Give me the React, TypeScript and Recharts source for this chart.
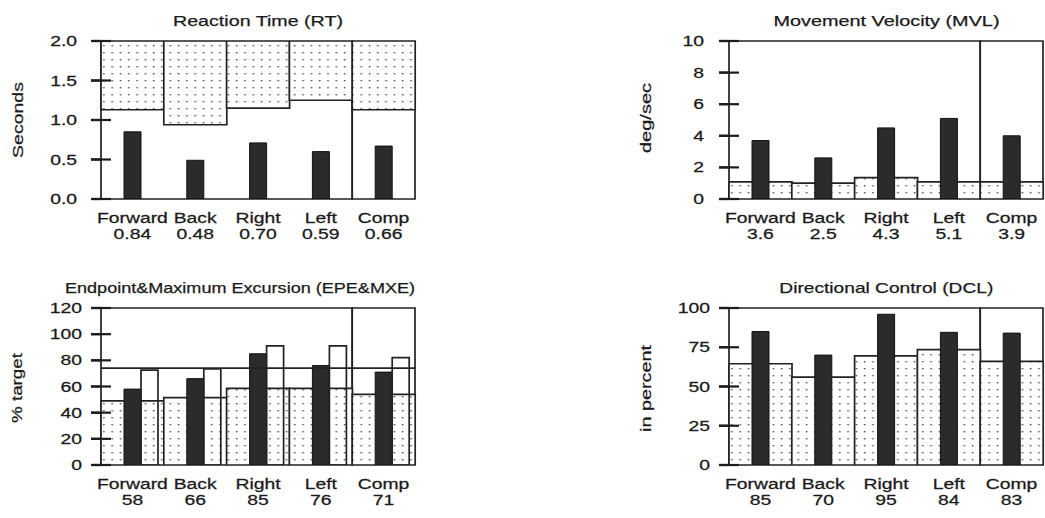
import React from 'react';
import { ComposedChart, Bar, XAxis, YAxis, ReferenceArea, ReferenceLine } from 'recharts';

// ---------- data ----------
const categories = ['Forward', 'Back', 'Right', 'Left', 'Comp'];

// Reaction Time (RT), seconds
const rtMean = [0.85, 0.49, 0.71, 0.6, 0.67];
const rtLabels = ['0.84', '0.48', '0.70', '0.59', '0.66'];
const rtNormLow = [1.13, 0.94, 1.15, 1.25, 1.13];
const rtMax = 2.0;
const rtTicks = [0, 0.5, 1.0, 1.5, 2.0];

// Movement Velocity (MVL), deg/sec
const mvlMean = [3.7, 2.6, 4.5, 5.1, 4.0];
const mvlLabels = ['3.6', '2.5', '4.3', '5.1', '3.9'];
const mvlNormHigh = [1.08, 1.0, 1.35, 1.08, 1.08];
const mvlMax = 10;
const mvlTicks = [0, 2, 4, 6, 8, 10];

// Endpoint & Maximum Excursion (EPE & MXE), % target
const epeMean = [58, 66, 85, 76, 71];
const mxeMean = [72.5, 73.5, 91, 91, 82];
const epeLabels = ['58', '66', '85', '76', '71'];
const epeNormHigh = [49, 51.5, 58.5, 58.5, 54];
const epeTarget = 74;
const epeMax = 120;
const epeTicks = [0, 20, 40, 60, 80, 100, 120];

// Directional Control (DCL), in percent
const dclMean = [85, 70, 96, 84.5, 84];
const dclLabels = ['85', '70', '95', '84', '83'];
const dclNormHigh = [64.5, 56, 69.5, 73.5, 66];
const dclMax = 100;
const dclTicks = [0, 25, 50, 75, 100];

// ---------- styling ----------
const FONT = '"Liberation Sans", Arial, Helvetica, sans-serif';
const INK = '#1a1a1a';
const LINE = '#222222';
const TICK = '#1c1c1c';
const SX = 1.38;
const FS = 14;
const TSW = 0.25;

const XTick = (props: any) => {
  const { x, payload, index, bottom, labels } = props;
  const i = typeof index === 'number' ? index : categories.indexOf(payload.value);
  return (
    <text transform={`translate(${x},${bottom + 24.3}) scale(${SX},1)`} textAnchor="middle"
      fontFamily={FONT} fontSize={FS} fill={INK} stroke={INK} strokeWidth={TSW}>
      <tspan x={0} y={0}>{payload.value}</tspan>
      <tspan x={0} y={15.4}>{labels[i]}</tspan>
    </text>
  );
};

const YTick = (props: any) => {
  const { y, payload, axisX, gap, fmt } = props;
  return (
    <text transform={`translate(${axisX - gap},${y + 5}) scale(${SX},1)`} textAnchor="end"
      fontFamily={FONT} fontSize={FS} fill={INK} stroke={INK} strokeWidth={TSW}>{fmt(payload.value)}</text>
  );
};

// inner half of the tick mark (drawn over the plot), placed by the library's y scale
const TickMark = (p: any) => {
  const x = Math.min(p.x1, p.x2);
  const y = p.y1;
  return <path d={`M${x - 10},${y}H${x + 10}`} stroke={TICK} strokeWidth={2.2} fill="none" />;
};

type PanelProps = {
  left: number; top: number; plotH: number; data: any[]; ticks: number[]; max: number;
  fmt: (v: number) => string; labels: string[]; gap: number; mxe?: boolean; target?: number;
};

function Panel({ left, top, plotH, data, ticks, max, fmt, labels, gap, mxe, target }: PanelProps) {
  const margin = { top: 41, right: 4, left: 41, bottom: 0 };
  const yW = 60;
  const axisX = margin.left + yW;
  const bottom = margin.top + plotH;
  return (
    <div style={{ position: 'absolute', left, top }}>
      <ComposedChart width={419} height={margin.top + plotH + 50} data={data} margin={margin}
        barGap={0} barCategoryGap={0}>
        <XAxis dataKey="cat" xAxisId={0} axisLine={false} tickLine={false} height={50} interval={0}
          tick={(p: any) => <XTick {...p} bottom={bottom} labels={labels} />} />
        <XAxis dataKey="cat" xAxisId="bg" hide />
        <YAxis yAxisId={0} width={yW} type="number" domain={[0, max]} ticks={ticks} allowDataOverflow
          axisLine={false} tickLine={{ stroke: TICK, strokeWidth: 2.2 }} tickSize={10} interval={0}
          tick={(p: any) => <YTick {...p} axisX={axisX} gap={gap} fmt={fmt} />} />
        <Bar xAxisId="bg" dataKey="range" fill="url(#dots)" stroke={LINE} strokeWidth={1.7}
          isAnimationActive={false} />
        {mxe && <Bar dataKey={(d: any) => d.mean} fill="none" stroke="none" barSize={17}
          isAnimationActive={false} />}
        <Bar dataKey="mean" fill="#2b2b2b" stroke="#111" strokeWidth={1} barSize={17} isAnimationActive={false} />
        {mxe && <Bar dataKey="mxe" fill="none" stroke={LINE} strokeWidth={1.7} barSize={17}
          isAnimationActive={false} />}
        {target != null && <ReferenceLine y={target} stroke={LINE} strokeWidth={1.7} />}
        <ReferenceArea x1="Forward" x2="Left" y1={0} y2={max} fill="none" stroke={LINE} strokeWidth={1.7} />
        <ReferenceArea x1="Comp" x2="Comp" y1={0} y2={max} fill="none" stroke={LINE} strokeWidth={1.7} />
        {ticks.map((v) => (
          <ReferenceLine key={`t${v}`} y={v} ifOverflow="visible" stroke={TICK} shape={TickMark} />
        ))}
      </ComposedChart>
    </div>
  );
}

const rtData = categories.map((c, i) => ({ cat: c, range: [rtNormLow[i], rtMax], mean: rtMean[i] }));
const mvlData = categories.map((c, i) => ({ cat: c, range: [0, mvlNormHigh[i]], mean: mvlMean[i] }));
const epeData = categories.map((c, i) => ({ cat: c, range: [0, epeNormHigh[i]], mean: epeMean[i], mxe: mxeMean[i] }));
const dclData = categories.map((c, i) => ({ cat: c, range: [0, dclNormHigh[i]], mean: dclMean[i] }));

const titles = [
  { t: 'Reaction Time (RT)', x: 258, y: 26, w: 170 },
  { t: 'Movement Velocity (MVL)', x: 886.5, y: 26, w: 226 },
  { t: 'Endpoint&Maximum Excursion (EPE&MXE)', x: 240, y: 293, w: 350 },
  { t: 'Directional Control (DCL)', x: 886.3, y: 293, w: 214 },
];
const yLabels = [
  { t: 'Seconds', x: 23, y: 120, w: 76 },
  { t: 'deg/sec', x: 651, y: 118, w: 70 },
  { t: '% target', x: 21.5, y: 388, w: 70 },
  { t: 'in percent', x: 650.5, y: 388.5, w: 87 },
];

export default function App() {
  return (
    <div style={{ position: 'absolute', left: 0, top: 0, width: 1045, height: 518, background: '#fff', overflow: 'hidden' }}>
      <svg width={0} height={0} style={{ position: 'absolute' }}>
        <defs>
          <pattern id="dots" patternUnits="userSpaceOnUse" width={8.3} height={7}>
            <rect width={8.3} height={7} fill="#fff" />
            <rect x={3.5} y={3} width={1.6} height={1.4} fill="#555" />
          </pattern>
        </defs>
      </svg>
      <Panel left={0} top={0} plotH={158} data={rtData} ticks={rtTicks} max={rtMax}
        fmt={(v) => v.toFixed(1)} labels={rtLabels} gap={24} />
      <Panel left={628} top={0} plotH={158} data={mvlData} ticks={mvlTicks} max={mvlMax}
        fmt={(v) => String(v)} labels={mvlLabels} gap={25} />
      <Panel left={0} top={267} plotH={157} data={epeData} ticks={epeTicks} max={epeMax}
        fmt={(v) => String(v)} labels={epeLabels} gap={19} mxe target={epeTarget} />
      <Panel left={628} top={267} plotH={157} data={dclData} ticks={dclTicks} max={dclMax}
        fmt={(v) => String(v)} labels={dclLabels} gap={19} />
      <svg width={1045} height={518} style={{ position: 'absolute', left: 0, top: 0, pointerEvents: 'none' }}>
        {titles.map((d) => (
          <text key={d.t} x={d.x} y={d.y} textAnchor="middle" textLength={d.w} lengthAdjust="spacingAndGlyphs"
            fontFamily={FONT} fontSize={15} fill={INK} stroke={INK} strokeWidth={TSW}>{d.t}</text>
        ))}
        {yLabels.map((d) => (
          <text key={d.t} transform={`translate(${d.x},${d.y}) rotate(-90)`} textAnchor="middle"
            textLength={d.w} lengthAdjust="spacingAndGlyphs" fontFamily={FONT} fontSize={15} fill={INK}
            stroke={INK} strokeWidth={TSW}>{d.t}</text>
        ))}
      </svg>
    </div>
  );
}
